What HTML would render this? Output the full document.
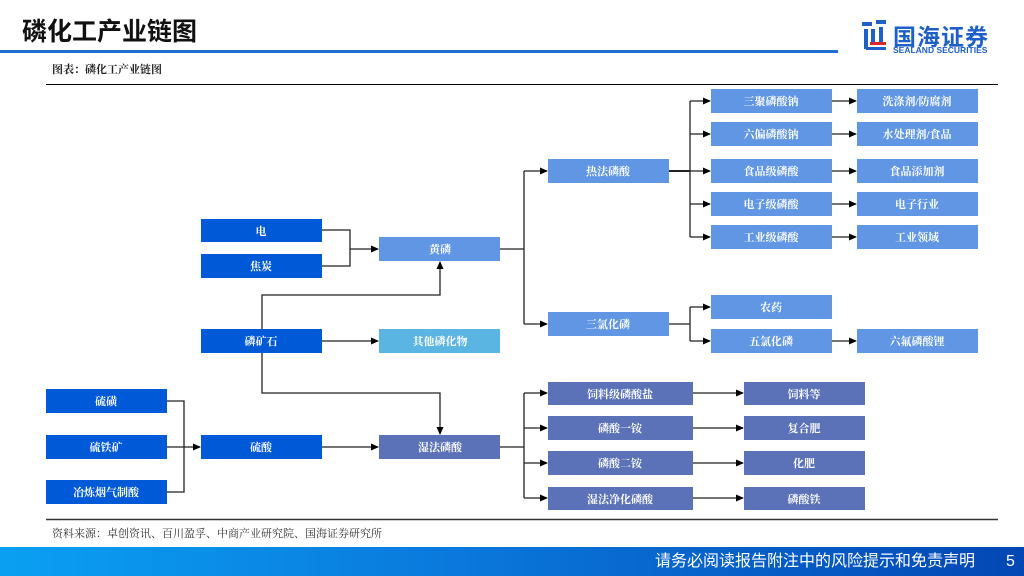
<!DOCTYPE html>
<html><head><meta charset="utf-8"><style>
body{margin:0;width:1024px;height:576px;overflow:hidden;background:#fff;font-family:"Liberation Sans","Noto Sans CJK SC",sans-serif;position:relative}
.t{position:absolute;left:22px;top:12px;font-size:25px;font-weight:bold;color:#111;font-family:"Liberation Sans","Noto Sans CJK SC",sans-serif}
.bl{position:absolute;left:0;top:50px;width:838px;height:3px;background:#1e6fd0}
.sub{position:absolute;left:52px;top:61px;font-size:11px;font-weight:bold;color:#222;font-family:"Liberation Serif","Noto Serif CJK SC",serif}
.src{position:absolute;left:52px;top:525px;font-size:11px;color:#333;font-family:"Liberation Serif","Noto Serif CJK SC",serif}
.ft{position:absolute;left:0;top:547px;width:1024px;height:29px;background:linear-gradient(90deg,#0aa0f2 0%,#0a78dc 45%,#0347b4 100%)}
.ft span{position:absolute;color:#fff;font-size:16px;top:5px;line-height:20px;height:20px;white-space:nowrap}
</style></head><body>
<div class="t">磷化工产业链图</div>
<div class="bl"></div>
<div style="position:absolute;left:862px;top:20px;width:26px;height:32px">
<svg width="26" height="32"><rect x="0" y="2" width="10" height="4" fill="#1e5fc8"/><rect x="14" y="0" width="10" height="4" fill="#1e5fc8"/><rect x="2" y="9" width="4" height="20" fill="#1e5fc8"/><rect x="9" y="9" width="4" height="14" fill="#1e5fc8"/><rect x="17" y="7" width="4" height="16" fill="#1e5fc8"/><rect x="8" y="22" width="16" height="3" fill="#d8262e"/><rect x="4" y="27" width="20" height="3" fill="#1e5fc8"/></svg></div>
<div style="position:absolute;left:893px;top:18px;font-size:23px;font-weight:bold;color:#1e5fc8;letter-spacing:1px">国海证券</div>
<div style="position:absolute;left:893px;top:45px;font-size:8.5px;font-weight:bold;color:#1e5fc8">SEALAND SECURITIES</div>
<div class="sub">图表：磷化工产业链图</div>
<svg style="position:absolute;left:0;top:0" width="1024" height="576" font-family="'Liberation Serif','Noto Serif CJK SC',serif" font-size="11" font-weight="bold">
<defs><marker id="a" markerWidth="8" markerHeight="8" refX="7" refY="4" orient="auto" markerUnits="userSpaceOnUse"><path d="M0,0.5 L8,4 L0,7.5z" fill="#000"/></marker></defs>
<line x1="46" y1="84.5" x2="998" y2="84.5" stroke="#000" stroke-width="1"/>
<line x1="46" y1="519.5" x2="998" y2="519.5" stroke="#333" stroke-width="1.5"/>
<g fill="none" stroke="#222" stroke-width="1.3">
<polyline points="322,230 350,230 350,266 322,266"/><line x1="350" y1="249" x2="378" y2="249" marker-end="url(#a)"/>
<polyline points="262,329 262,295 440,295 440,262" marker-end="url(#a)"/>
<polyline points="262,353 262,393 440,393 440,434" marker-end="url(#a)"/>
<line x1="322" y1="341" x2="378" y2="341" marker-end="url(#a)"/>
<line x1="500" y1="249" x2="524" y2="249"/>
<polyline points="524,324 524,171"/>
<line x1="524" y1="171" x2="547" y2="171" marker-end="url(#a)"/>
<line x1="524" y1="324" x2="547" y2="324" marker-end="url(#a)"/>
<line x1="669" y1="171" x2="690" y2="171" stroke-width="2"/>
<line x1="690" y1="101" x2="690" y2="237"/>
<line x1="690" y1="101" x2="710" y2="101" marker-end="url(#a)"/>
<line x1="690" y1="134" x2="710" y2="134" marker-end="url(#a)"/>
<line x1="690" y1="171" x2="710" y2="171" marker-end="url(#a)"/>
<line x1="690" y1="204" x2="710" y2="204" marker-end="url(#a)"/>
<line x1="690" y1="237" x2="710" y2="237" marker-end="url(#a)"/>
<line x1="832" y1="101" x2="856" y2="101" marker-end="url(#a)"/>
<line x1="832" y1="134" x2="856" y2="134" marker-end="url(#a)"/>
<line x1="832" y1="171" x2="856" y2="171" marker-end="url(#a)"/>
<line x1="832" y1="204" x2="856" y2="204" marker-end="url(#a)"/>
<line x1="832" y1="237" x2="856" y2="237" marker-end="url(#a)"/>
<line x1="832" y1="341" x2="856" y2="341" marker-end="url(#a)"/>
<line x1="669" y1="324" x2="690" y2="324"/>
<line x1="690" y1="307" x2="690" y2="341"/>
<line x1="690" y1="307" x2="710" y2="307" marker-end="url(#a)"/>
<line x1="690" y1="341" x2="710" y2="341" marker-end="url(#a)"/>
<polyline points="167,401 184,401 184,492 167,492"/>
<line x1="167" y1="447" x2="200" y2="447" marker-end="url(#a)"/>
<line x1="322" y1="447" x2="378" y2="447" marker-end="url(#a)"/>
<line x1="500" y1="447" x2="524" y2="447"/>
<line x1="524" y1="393" x2="524" y2="498"/>
<line x1="524" y1="393" x2="547" y2="393" marker-end="url(#a)"/>
<line x1="524" y1="428" x2="547" y2="428" marker-end="url(#a)"/>
<line x1="524" y1="463" x2="547" y2="463" marker-end="url(#a)"/>
<line x1="524" y1="498" x2="547" y2="498" marker-end="url(#a)"/>
<line x1="693" y1="393" x2="743" y2="393" marker-end="url(#a)"/>
<line x1="693" y1="428" x2="743" y2="428" marker-end="url(#a)"/>
<line x1="693" y1="463" x2="743" y2="463" marker-end="url(#a)"/>
<line x1="693" y1="498" x2="743" y2="498" marker-end="url(#a)"/>
</g>
<g fill="#0059d6"><rect x="201" y="219" width="121" height="23"/><rect x="201" y="254" width="121" height="24"/><rect x="201" y="329" width="121" height="24"/><rect x="46" y="389" width="121" height="24"/><rect x="46" y="435" width="121" height="24"/><rect x="46" y="480" width="121" height="24"/><rect x="201" y="435" width="121" height="24"/></g>
<rect x="379" y="237" width="121" height="24" fill="#6096e3"/>
<rect x="379" y="329" width="121" height="24" fill="#5ab5e3"/>
<rect x="379" y="435" width="121" height="24" fill="#5b72b8"/>
<g fill="#6096e3"><rect x="548" y="159" width="121" height="24"/><rect x="548" y="312" width="121" height="24"/>
<rect x="711" y="89" width="121" height="24"/><rect x="711" y="122" width="121" height="24"/><rect x="711" y="159" width="121" height="24"/><rect x="711" y="192" width="121" height="24"/><rect x="711" y="225" width="121" height="24"/><rect x="711" y="295" width="121" height="24"/><rect x="711" y="329" width="121" height="24"/>
<rect x="857" y="89" width="121" height="24"/><rect x="857" y="122" width="121" height="24"/><rect x="857" y="159" width="121" height="24"/><rect x="857" y="192" width="121" height="24"/><rect x="857" y="225" width="121" height="24"/><rect x="857" y="329" width="121" height="24"/></g>
<g fill="#5b72b8"><rect x="548" y="382" width="145" height="23"/><rect x="548" y="416" width="145" height="24"/><rect x="548" y="451" width="145" height="24"/><rect x="548" y="487" width="145" height="23"/>
<rect x="744" y="382" width="121" height="23"/><rect x="744" y="416" width="121" height="24"/><rect x="744" y="451" width="121" height="24"/><rect x="744" y="487" width="121" height="23"/></g>
<g fill="#fff" text-anchor="middle">
<text x="261" y="235">电</text><text x="261" y="270">焦炭</text><text x="261" y="345">磷矿石</text>
<text x="106" y="405">硫磺</text><text x="106" y="451">硫铁矿</text><text x="106" y="496">冶炼烟气制酸</text><text x="261" y="451">硫酸</text>
<text x="440" y="253">黄磷</text><text x="440" y="345">其他磷化物</text><text x="440" y="451">湿法磷酸</text>
<text x="608" y="175">热法磷酸</text><text x="608" y="328">三氯化磷</text>
<text x="771" y="105">三聚磷酸钠</text><text x="771" y="138">六偏磷酸钠</text><text x="771" y="175">食品级磷酸</text><text x="771" y="208">电子级磷酸</text><text x="771" y="241">工业级磷酸</text><text x="771" y="311">农药</text><text x="771" y="345">五氯化磷</text>
<text x="917" y="105">洗涤剂/防腐剂</text><text x="917" y="138">水处理剂/食品</text><text x="917" y="175">食品添加剂</text><text x="917" y="208">电子行业</text><text x="917" y="241">工业领域</text><text x="917" y="345">六氟磷酸锂</text>
<text x="620" y="398">饲料级磷酸盐</text><text x="620" y="432">磷酸一铵</text><text x="620" y="467">磷酸二铵</text><text x="620" y="503">湿法净化磷酸</text>
<text x="804" y="398">饲料等</text><text x="804" y="432">复合肥</text><text x="804" y="467">化肥</text><text x="804" y="503">磷酸铁</text>
</g>
</svg>
<div class="src">资料来源：卓创资讯、百川盈孚、中商产业研究院、国海证券研究所</div>
<div class="ft"><span style="left:655px">请务必阅读报告附注中的风险提示和免责声明</span><span style="left:1006px">5</span></div>
</body></html>
